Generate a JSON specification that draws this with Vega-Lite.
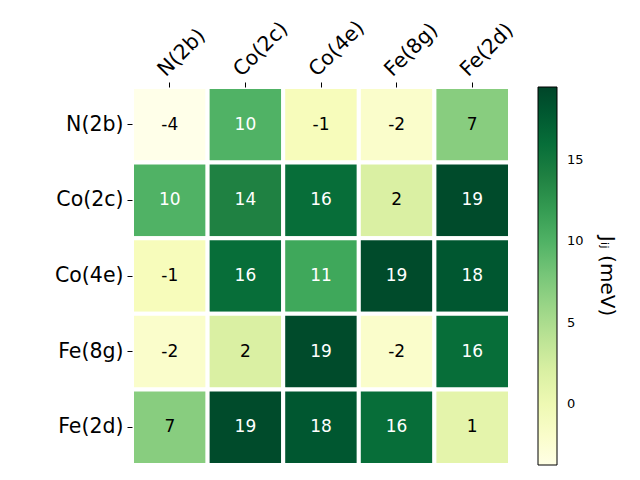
{
  "$schema": "https://vega.github.io/schema/vega-lite/v6.json",
  "width": 378,
  "height": 378,
  "autosize": "none",
  "padding": {"left": 132, "top": 87, "right": 130, "bottom": 15},
  "background": "white",
  "config": {"font": "DejaVu Sans", "view": {"stroke": null}},
  "data": {"values": [
    {"r": "N(2b)", "c": "N(2b)", "v": -4}, {"r": "N(2b)", "c": "Co(2c)", "v": 10}, {"r": "N(2b)", "c": "Co(4e)", "v": -1}, {"r": "N(2b)", "c": "Fe(8g)", "v": -2}, {"r": "N(2b)", "c": "Fe(2d)", "v": 7},
    {"r": "Co(2c)", "c": "N(2b)", "v": 10}, {"r": "Co(2c)", "c": "Co(2c)", "v": 14}, {"r": "Co(2c)", "c": "Co(4e)", "v": 16}, {"r": "Co(2c)", "c": "Fe(8g)", "v": 2}, {"r": "Co(2c)", "c": "Fe(2d)", "v": 19},
    {"r": "Co(4e)", "c": "N(2b)", "v": -1}, {"r": "Co(4e)", "c": "Co(2c)", "v": 16}, {"r": "Co(4e)", "c": "Co(4e)", "v": 11}, {"r": "Co(4e)", "c": "Fe(8g)", "v": 19}, {"r": "Co(4e)", "c": "Fe(2d)", "v": 18},
    {"r": "Fe(8g)", "c": "N(2b)", "v": -2}, {"r": "Fe(8g)", "c": "Co(2c)", "v": 2}, {"r": "Fe(8g)", "c": "Co(4e)", "v": 19}, {"r": "Fe(8g)", "c": "Fe(8g)", "v": -2}, {"r": "Fe(8g)", "c": "Fe(2d)", "v": 16},
    {"r": "Fe(2d)", "c": "N(2b)", "v": 7}, {"r": "Fe(2d)", "c": "Co(2c)", "v": 19}, {"r": "Fe(2d)", "c": "Co(4e)", "v": 18}, {"r": "Fe(2d)", "c": "Fe(8g)", "v": 16}, {"r": "Fe(2d)", "c": "Fe(2d)", "v": 1}
  ]},
  "encoding": {
    "x": {"field": "c", "type": "nominal", "sort": ["N(2b)", "Co(2c)", "Co(4e)", "Fe(8g)", "Fe(2d)"],
      "scale": {"paddingInner": 0, "paddingOuter": 0},
      "axis": {"orient": "top", "title": null, "domain": false, "tickSize": 5, "tickColor": "black", "labelColor": "black",
        "labelFontSize": 20.5, "labelAngle": -45, "labelAlign": "left", "labelBaseline": "alphabetic", "labelPadding": 5, "labelOffset": -4}},
    "y": {"field": "r", "type": "nominal", "sort": ["N(2b)", "Co(2c)", "Co(4e)", "Fe(8g)", "Fe(2d)"],
      "scale": {"paddingInner": 0, "paddingOuter": 0},
      "axis": {"title": null, "domain": false, "tickSize": 5, "tickColor": "black", "labelColor": "black",
        "labelFontSize": 20.5, "labelPadding": 4}}
  },
  "layer": [
    {"mark": {"type": "rect", "stroke": "white", "strokeWidth": 4},
     "encoding": {"color": {"field": "v", "type": "quantitative",
        "scale": {"domain": [-3.75, -0.84375, 2.0625, 4.96875, 7.875, 10.78125, 13.6875, 16.59375, 19.5],
                  "range": ["#ffffe5", "#f7fcb9", "#d9f0a3", "#addd8e", "#78c679", "#41ab5d", "#238443", "#006837", "#004529"],
                  "interpolate": "rgb", "nice": false, "zero": false},
        "legend": {"title": "Jᵢⱼ (meV)", "titleOrient": "right", "titleAnchor": "middle", "titleFontSize": 20, "titleFontWeight": "normal", "titleColor": "black", "titlePadding": 13,
          "gradientLength": 378, "gradientThickness": 19, "gradientStrokeColor": "black", "gradientStrokeWidth": 1,
          "values": [0, 5, 10, 15], "labelFontSize": 13, "labelColor": "black", "labelOffset": 10, "offset": 28, "padding": 0}}}},
    {"mark": {"type": "text", "fontSize": 17},
     "encoding": {"text": {"field": "v", "type": "nominal"},
       "color": {"condition": {"test": "datum.v > 8", "value": "white"}, "value": "black"}}}
  ]
}
